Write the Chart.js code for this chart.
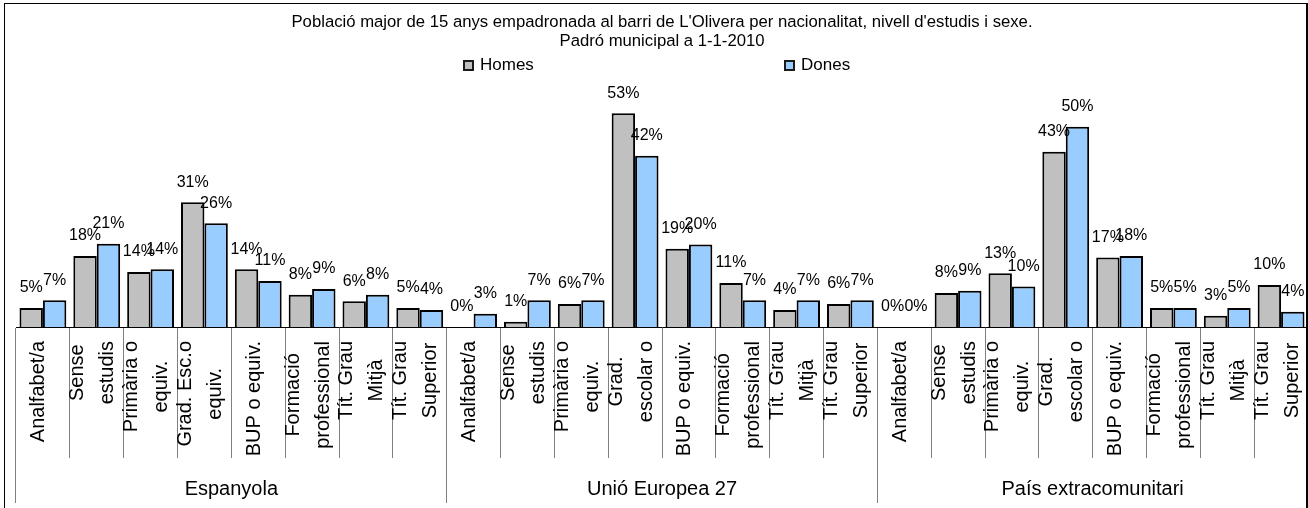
<!DOCTYPE html>
<html lang="ca">
<head>
<meta charset="utf-8">
<title>Població major de 15 anys - L'Olivera</title>
<script src="https://cdn.jsdelivr.net/npm/chart.js@4.4.1/dist/chart.umd.min.js"></script>
<style>
    html, body { margin: 0; padding: 0; background: #fff; }
    #chart-wrap { position: relative; width: 1308px; height: 508px; overflow: hidden; }
    #population-chart { position: absolute; left: 0; top: 0; }
    #chart-frame {
        position: absolute; left: 4px; top: 3px; width: 1301px; height: 530px;
        border: 1px solid #000; border-right-width: 2px; pointer-events: none;
    }
    .legend-item {
        position: absolute; top: 55px; height: 20px; display: flex; align-items: center;
        font: 17px "Liberation Sans", Arial, sans-serif; color: #000; white-space: nowrap;
    }
    .legend-box { width: 11px; height: 11px; box-sizing: border-box; border: 2px solid #1a1a1a; margin-right: 6px; }
</style>
</head>
<body>
<div id="chart-wrap">
    <canvas id="population-chart" width="1308" height="508"></canvas>
    <div id="legend"></div>
    <div id="chart-frame"></div>
</div>
<script>
// Заголовок графика
const titleLines = [
    "Població major de 15 anys empadronada al barri de L'Olivera per nacionalitat, nivell d'estudis i sexe.",
    'Padró municipal a 1-1-2010'
];

// Группы (национальность)
const groupLabels = ['Espanyola', 'Unió Europea 27', 'País extracomunitari'];

// Уровни образования
const levelsSpain = [
    'Analfabet/a', ['Sense', 'estudis'], ['Primària o', 'equiv.'], ['Grad. Esc.o', 'equiv.'],
    'BUP o equiv.', ['Formació', 'professional'], ['Tít. Grau', 'Mitjà'], ['Tít. Grau', 'Superior']
];
const levelsOther = [
    'Analfabet/a', ['Sense', 'estudis'], ['Primària o', 'equiv.'], ['Grad.', 'escolar o'],
    'BUP o equiv.', ['Formació', 'professional'], ['Tít. Grau', 'Mitjà'], ['Tít. Grau', 'Superior']
];
const categoryLabels = [...levelsSpain, ...levelsOther, ...levelsOther];

// Серии (%)
const seriesNames = ['Homes', 'Dones'];
const homesValues = [
    4.7, 17.6, 13.6, 30.9, 14.3, 8.0, 6.4, 4.7,
    0, 1.3, 5.7, 52.9, 19.4, 10.9, 4.2, 5.7,
    0, 8.4, 13.3, 43.4, 17.2, 4.7, 2.8, 10.4
];
const donesValues = [
    6.6, 20.6, 14.3, 25.7, 11.4, 9.4, 8.0, 4.2,
    3.3, 6.6, 6.6, 42.4, 20.4, 6.6, 6.6, 6.6,
    0, 9.0, 10.0, 49.6, 17.6, 4.7, 4.7, 3.8
];

const FONT = '"Liberation Sans", Arial, sans-serif';
const legendLeft = [463, 784];

Chart.defaults.font.family = FONT;
Chart.defaults.color = '#000';

/**
 * Расположение подписей осей: блок прижат к оси, строки центрированы
 */
const tickLabelLayout = {
    id: 'tickLabelLayout',
    beforeDraw(chart) {
        const c = chart.ctx;
        const x = chart.scales.x;
        x.getLabelItems().forEach((item, i) => {
            if (item.centered) return;
            const lines = [].concat(item.label);

            // Самая длинная строка задаёт высоту блока
            c.save();
            c.font = item.font.string;
            const longest = Math.max(...lines.map(line => c.measureText(line).width));
            c.restore();

            item.options.textAlign = 'center';
            item.options.textBaseline = 'middle';
            item.options.translation = [x.getPixelForTick(i), x.top + 14 + longest / 2];
            item.textOffset = -(lines.length - 1) * item.font.lineHeight / 2 - 4;
            item.centered = true;
        });

        const group = chart.scales.group;
        group.getLabelItems().forEach((item, i) => {
            if (item.centered) return;
            item.options.textAlign = 'center';
            item.options.textBaseline = 'middle';
            item.options.translation = [group.getPixelForTick(i), group.top + 31];
            item.textOffset = 0;
            item.centered = true;
        });
    }
};

/**
 * Подписи значений над столбцами
 */
const barValueLabels = {
    id: 'barValueLabels',
    afterDatasetsDraw(chart) {
        const ctx = chart.ctx;
        ctx.save();
        ctx.font = '16px ' + FONT;
        ctx.fillStyle = '#000';
        ctx.textAlign = 'center';
        ctx.textBaseline = 'middle';
        chart.data.datasets.forEach((dataset, i) => {
            chart.getDatasetMeta(i).data.forEach((bar, j) => {
                ctx.fillText(Math.round(dataset.data[j]) + '%', bar.x, bar.y - 20);
            });
        });
        ctx.restore();
    }
};

/**
 * HTML-легенда (элементы разнесены как в оригинале)
 */
const htmlLegend = {
    id: 'htmlLegend',
    afterUpdate(chart) {
        const container = document.getElementById('legend');
        container.innerHTML = '';
        chart.data.datasets.forEach((dataset, i) => {
            const item = document.createElement('div');
            item.className = 'legend-item';
            item.style.left = legendLeft[i] + 'px';

            const box = document.createElement('span');
            box.className = 'legend-box';
            box.style.background = dataset.backgroundColor;

            const text = document.createElement('span');
            text.textContent = dataset.label;

            item.appendChild(box);
            item.appendChild(text);
            container.appendChild(item);
        });
    }
};

/**
 * Фиксированная высота оси без боковых отступов под подписи
 * @param {number} height - Высота полосы оси
 */
function fixedAxisHeight(height) {
    return function(scale) {
        scale.height = height;
        scale.paddingLeft = 0;
        scale.paddingRight = 0;
    };
}

const ctx = document.getElementById('population-chart').getContext('2d');

const populationChart = new Chart(ctx, {
    type: 'bar',
    data: {
        labels: categoryLabels,
        datasets: [{
            label: seriesNames[0],
            data: homesValues,
            backgroundColor: '#C0C0C0',
            borderColor: '#000',
            borderWidth: 2,
            categoryPercentage: 0.87,
            barPercentage: 1.0
        }, {
            label: seriesNames[1],
            data: donesValues,
            backgroundColor: '#99CCFF',
            borderColor: '#000',
            borderWidth: 2,
            categoryPercentage: 0.87,
            barPercentage: 1.0
        }]
    },
    options: {
        responsive: false,
        animation: false,
        layout: {
            padding: { left: 16, right: 0, top: 0, bottom: 0 }
        },
        plugins: {
            legend: { display: false },
            tooltip: { enabled: false },
            title: {
                display: true,
                text: titleLines,
                color: '#000',
                font: { family: FONT, size: 16.7, weight: 'normal', lineHeight: 1.1 },
                padding: { top: 13.5, bottom: 34.4 }
            }
        },
        scales: {
            x: {
                type: 'category',
                position: 'bottom',
                weight: 0,
                offset: true,
                grid: {
                    offset: true,
                    drawOnChartArea: false,
                    drawTicks: true,
                    tickLength: 131,
                    color: '#808080',
                    lineWidth: 1
                },
                border: { display: true, color: '#000', width: 1 },
                ticks: {
                    autoSkip: false,
                    minRotation: 90,
                    maxRotation: 90,
                    padding: 0,
                    color: '#000',
                    font: { family: FONT, size: 20, lineHeight: 1.5 }
                },
                afterFit: fixedAxisHeight(131)
            },
            group: {
                type: 'category',
                labels: groupLabels,
                position: 'bottom',
                weight: 1,
                offset: true,
                grid: {
                    offset: true,
                    drawOnChartArea: false,
                    drawTicks: true,
                    tickLength: 45,
                    color: '#808080',
                    lineWidth: 1
                },
                border: { display: false },
                ticks: {
                    autoSkip: false,
                    maxRotation: 0,
                    padding: 0,
                    color: '#000',
                    font: { family: FONT, size: 20 }
                },
                afterFit: fixedAxisHeight(50)
            },
            y: {
                display: false,
                min: 0,
                max: 60
            }
        }
    },
    plugins: [tickLabelLayout, barValueLabels, htmlLegend]
});
</script>
</body>
</html>
